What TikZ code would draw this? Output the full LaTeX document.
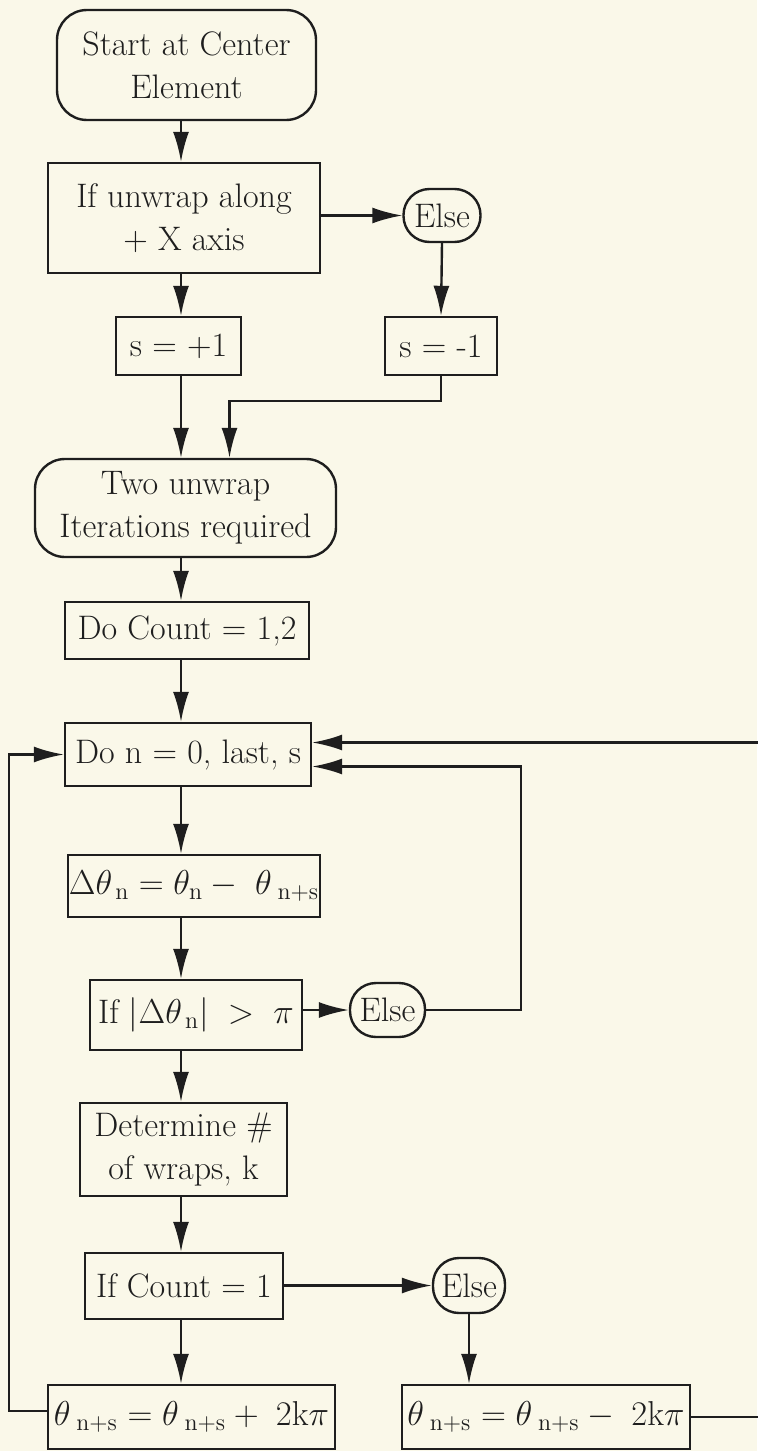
\documentclass[tikz,border=0pt]{standalone}
\usetikzlibrary{arrows.meta}
\definecolor{paper}{HTML}{FAF8E9}
\definecolor{ink}{HTML}{1E1E1E}
\begin{document}
\begin{tikzpicture}[x=0.5pt,y=-0.5pt,>={Latex[length=15pt,width=8pt]},
  every node/.style={font=\fontsize{17}{21.5}\selectfont,text=ink},
  box/.style={draw=ink,line width=1.2pt,inner sep=0pt,align=center},
  term/.style={box,rounded corners=15pt},
  other/.style={box,rounded corners=13pt},
  flow/.style={->,draw=ink,line width=1.2pt}]
\useasboundingbox[fill=paper] (0,0) rectangle (757,1451);
\coordinate (spine) at (181,0);
\node[term,minimum width=129.5pt,minimum height=55pt] (start) at (186.5,65) {Start at Center\\Element};
\node[box,minimum width=136pt,minimum height=55pt] (ifx) at (184,218) {If unwrap along\\+ X axis};
\node[other,minimum width=38.5pt,minimum height=26.5pt] (else1) at (442,215.5) {Else};
\node[box,minimum width=62.5pt,minimum height=29pt] (sp) at (178.5,346) {s = +1};
\node[box,minimum width=56pt,minimum height=29pt] (sm) at (441,346) {s = -1};
\node[term,minimum width=150.5pt,minimum height=49pt] (two) at (185.5,508) {Two unwrap\\Iterations required};
\node[box,minimum width=122pt,minimum height=28.5pt] (count) at (187,630.5) {Do Count = 1,2};
\node[box,minimum width=123pt,minimum height=31.5pt] (don) at (188,754.5) {Do n = 0, last, s};
\node[box,minimum width=126pt,minimum height=31pt] (dtheta) at (194,886) {$\Delta\theta_{\,\mathrm{n}} = \theta_{\mathrm{n}} -\; \theta_{\;\mathrm{n+s}}$};
\node[box,minimum width=106pt,minimum height=35pt] (ifabs) at (196,1015) {If $\left|\Delta\theta_{\,\mathrm{n}}\right| \;>\; \pi$};
\node[other,minimum width=37.5pt,minimum height=27pt] (else2) at (387.5,1010) {Else};
\node[box,minimum width=103.5pt,minimum height=46.5pt] (determine) at (183.5,1149.5) {Determine \#\\of wraps, k};
\node[box,minimum width=99pt,minimum height=33pt] (ifcount) at (184,1286) {If Count = 1};
\node[other,minimum width=36pt,minimum height=27.5pt] (else3) at (469,1285.5) {Else};
\node[box,minimum width=143.5pt,minimum height=32pt] (plus) at (191.5,1417) {$\theta_{\;\mathrm{n+s}} = \theta_{\;\mathrm{n+s}} +\; 2\mathrm{k}\pi$};
\node[box,minimum width=144pt,minimum height=32pt] (minus) at (546,1417) {$\theta_{\;\mathrm{n+s}} = \theta_{\;\mathrm{n+s}} -\; 2\mathrm{k}\pi$};
\draw[flow] (start.south -| spine) -- (ifx.north -| spine);
\draw[flow] (ifx.east |- else1) -- (else1.west);
\draw[flow] (ifx.south -| spine) -- (sp.north -| spine);
\draw[flow] (else1.south) -- (sm.north);
\draw[flow] (sp.south -| spine) -- (two.north -| spine);
\draw[flow] (sm.south) -- ++(0,25) -| ([xshift=22pt]two.north);
\draw[flow] (two.south -| spine) -- (count.north -| spine);
\draw[flow] (count.south -| spine) -- (don.north -| spine);
\draw[flow] (don.south -| spine) -- (dtheta.north -| spine);
\draw[flow] (dtheta.south -| spine) -- (ifabs.north -| spine);
\draw[flow] (ifabs.east |- else2) -- (else2.west);
\draw[flow] (ifabs.south -| spine) -- (determine.north -| spine);
\draw[flow] (determine.south -| spine) -- (ifcount.north -| spine);
\draw[flow] (ifcount.east |- else3) -- (else3.west);
\draw[flow] (ifcount.south -| spine) -- (plus.north -| spine);
\draw[flow] (else3.south) -- (else3.south |- minus.north);
\draw[flow] (else2.east) -- ++(95,0) |- ([yshift=-6pt]don.east);
\draw[flow] ([yshift=3pt]plus.west) -- ++(-38,0) |- (don.west);
\draw[flow] (minus.east) -- ++(70,0) |- ([yshift=6pt]don.east);
\end{tikzpicture}
\end{document}
